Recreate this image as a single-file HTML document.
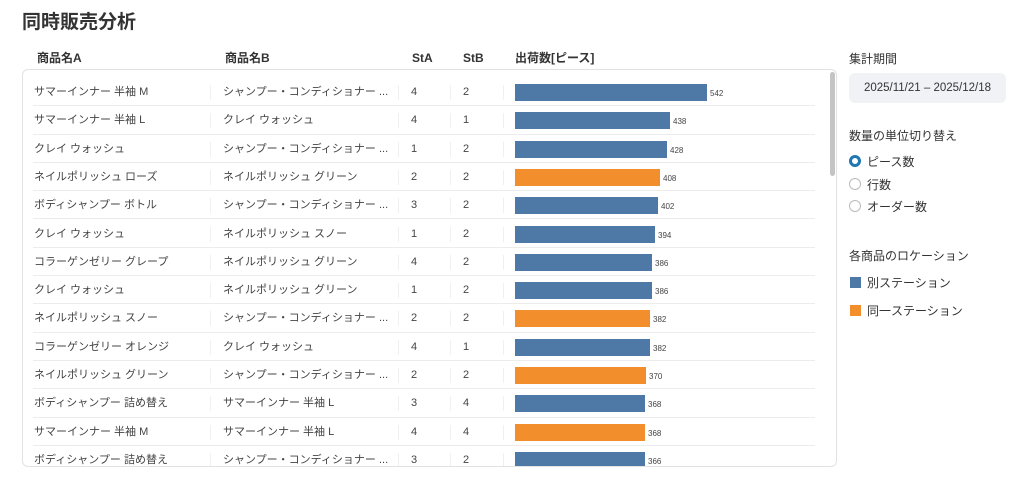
<!DOCTYPE html>
<html><head><meta charset="utf-8"><style>
*{margin:0;padding:0;box-sizing:border-box}
body{width:1024px;height:502px;background:#fff;font-family:"Liberation Sans","Noto Sans CJK JP",sans-serif;color:#333;position:relative;overflow:hidden}
.a{position:absolute;white-space:nowrap}
h1{position:absolute;left:22px;top:7px;font-size:19px;font-weight:bold;color:#333;font-family:"Liberation Sans","Noto Sans CJK JP",sans-serif}
.hd{font-size:12px;font-weight:bold;color:#333;top:48px;line-height:20px}
.box{position:absolute;left:22px;top:69px;width:815px;height:398px;border:1px solid #e2e2e2;border-radius:6px;overflow:hidden}
.r{position:absolute;left:10px;width:782px;height:28.3px;border-bottom:1px solid #ececec;font-size:11px;color:#444}
.r span{position:absolute;top:0;line-height:28px;height:28px}
.s{position:absolute;top:7px;width:1px;height:15px;background:#f0f0f0}
.b{position:absolute;top:6px;height:17px}
.r span.v{font-size:8px;top:2px;color:#444}
</style></head><body>
<h1>同時販売分析</h1>
<div class="a hd" style="left:37px">商品名A</div>
<div class="a hd" style="left:225px">商品名B</div>
<div class="a hd" style="left:412px">StA</div>
<div class="a hd" style="left:463px">StB</div>
<div class="a hd" style="left:515px">出荷数[ピース]</div>
<div class="box">
<div class="r" style="top:8px"><span style="left:1px">サマーインナー 半袖 M</span><div class="s" style="left:177px"></div><span style="left:190px">シャンプー・コンディショナー ...</span><div class="s" style="left:365px"></div><span style="left:378px">4</span><div class="s" style="left:417px"></div><span style="left:430px">2</span><div class="s" style="left:470px"></div><div class="b" style="left:482px;width:192px;background:#4e79a7"></div><span class="v" style="left:677px">542</span></div>
<div class="r" style="top:36.3px"><span style="left:1px">サマーインナー 半袖 L</span><div class="s" style="left:177px"></div><span style="left:190px">クレイ ウォッシュ</span><div class="s" style="left:365px"></div><span style="left:378px">4</span><div class="s" style="left:417px"></div><span style="left:430px">1</span><div class="s" style="left:470px"></div><div class="b" style="left:482px;width:155px;background:#4e79a7"></div><span class="v" style="left:640px">438</span></div>
<div class="r" style="top:64.6px"><span style="left:1px">クレイ ウォッシュ</span><div class="s" style="left:177px"></div><span style="left:190px">シャンプー・コンディショナー ...</span><div class="s" style="left:365px"></div><span style="left:378px">1</span><div class="s" style="left:417px"></div><span style="left:430px">2</span><div class="s" style="left:470px"></div><div class="b" style="left:482px;width:152px;background:#4e79a7"></div><span class="v" style="left:637px">428</span></div>
<div class="r" style="top:92.9px"><span style="left:1px">ネイルポリッシュ ローズ</span><div class="s" style="left:177px"></div><span style="left:190px">ネイルポリッシュ グリーン</span><div class="s" style="left:365px"></div><span style="left:378px">2</span><div class="s" style="left:417px"></div><span style="left:430px">2</span><div class="s" style="left:470px"></div><div class="b" style="left:482px;width:145px;background:#f28e2b"></div><span class="v" style="left:630px">408</span></div>
<div class="r" style="top:121.2px"><span style="left:1px">ボディシャンプー ボトル</span><div class="s" style="left:177px"></div><span style="left:190px">シャンプー・コンディショナー ...</span><div class="s" style="left:365px"></div><span style="left:378px">3</span><div class="s" style="left:417px"></div><span style="left:430px">2</span><div class="s" style="left:470px"></div><div class="b" style="left:482px;width:143px;background:#4e79a7"></div><span class="v" style="left:628px">402</span></div>
<div class="r" style="top:149.5px"><span style="left:1px">クレイ ウォッシュ</span><div class="s" style="left:177px"></div><span style="left:190px">ネイルポリッシュ スノー</span><div class="s" style="left:365px"></div><span style="left:378px">1</span><div class="s" style="left:417px"></div><span style="left:430px">2</span><div class="s" style="left:470px"></div><div class="b" style="left:482px;width:140px;background:#4e79a7"></div><span class="v" style="left:625px">394</span></div>
<div class="r" style="top:177.8px"><span style="left:1px">コラーゲンゼリー グレープ</span><div class="s" style="left:177px"></div><span style="left:190px">ネイルポリッシュ グリーン</span><div class="s" style="left:365px"></div><span style="left:378px">4</span><div class="s" style="left:417px"></div><span style="left:430px">2</span><div class="s" style="left:470px"></div><div class="b" style="left:482px;width:137px;background:#4e79a7"></div><span class="v" style="left:622px">386</span></div>
<div class="r" style="top:206.1px"><span style="left:1px">クレイ ウォッシュ</span><div class="s" style="left:177px"></div><span style="left:190px">ネイルポリッシュ グリーン</span><div class="s" style="left:365px"></div><span style="left:378px">1</span><div class="s" style="left:417px"></div><span style="left:430px">2</span><div class="s" style="left:470px"></div><div class="b" style="left:482px;width:137px;background:#4e79a7"></div><span class="v" style="left:622px">386</span></div>
<div class="r" style="top:234.4px"><span style="left:1px">ネイルポリッシュ スノー</span><div class="s" style="left:177px"></div><span style="left:190px">シャンプー・コンディショナー ...</span><div class="s" style="left:365px"></div><span style="left:378px">2</span><div class="s" style="left:417px"></div><span style="left:430px">2</span><div class="s" style="left:470px"></div><div class="b" style="left:482px;width:135px;background:#f28e2b"></div><span class="v" style="left:620px">382</span></div>
<div class="r" style="top:262.7px"><span style="left:1px">コラーゲンゼリー オレンジ</span><div class="s" style="left:177px"></div><span style="left:190px">クレイ ウォッシュ</span><div class="s" style="left:365px"></div><span style="left:378px">4</span><div class="s" style="left:417px"></div><span style="left:430px">1</span><div class="s" style="left:470px"></div><div class="b" style="left:482px;width:135px;background:#4e79a7"></div><span class="v" style="left:620px">382</span></div>
<div class="r" style="top:291px"><span style="left:1px">ネイルポリッシュ グリーン</span><div class="s" style="left:177px"></div><span style="left:190px">シャンプー・コンディショナー ...</span><div class="s" style="left:365px"></div><span style="left:378px">2</span><div class="s" style="left:417px"></div><span style="left:430px">2</span><div class="s" style="left:470px"></div><div class="b" style="left:482px;width:131px;background:#f28e2b"></div><span class="v" style="left:616px">370</span></div>
<div class="r" style="top:319.3px"><span style="left:1px">ボディシャンプー 詰め替え</span><div class="s" style="left:177px"></div><span style="left:190px">サマーインナー 半袖 L</span><div class="s" style="left:365px"></div><span style="left:378px">3</span><div class="s" style="left:417px"></div><span style="left:430px">4</span><div class="s" style="left:470px"></div><div class="b" style="left:482px;width:130px;background:#4e79a7"></div><span class="v" style="left:615px">368</span></div>
<div class="r" style="top:347.6px"><span style="left:1px">サマーインナー 半袖 M</span><div class="s" style="left:177px"></div><span style="left:190px">サマーインナー 半袖 L</span><div class="s" style="left:365px"></div><span style="left:378px">4</span><div class="s" style="left:417px"></div><span style="left:430px">4</span><div class="s" style="left:470px"></div><div class="b" style="left:482px;width:130px;background:#f28e2b"></div><span class="v" style="left:615px">368</span></div>
<div class="r" style="top:375.9px"><span style="left:1px">ボディシャンプー 詰め替え</span><div class="s" style="left:177px"></div><span style="left:190px">シャンプー・コンディショナー ...</span><div class="s" style="left:365px"></div><span style="left:378px">3</span><div class="s" style="left:417px"></div><span style="left:430px">2</span><div class="s" style="left:470px"></div><div class="b" style="left:482px;width:130px;background:#4e79a7"></div><span class="v" style="left:615px">366</span></div>
<div style="position:absolute;left:807px;top:2px;width:5px;height:104px;border-radius:3px;background:#c4c4c4"></div>
</div>
<div class="a" style="left:849px;top:50px;font-size:12px;color:#333">集計期間</div>
<div class="a" style="left:849px;top:73px;width:157px;height:30px;background:#f0f2f6;border-radius:6px;font-size:11.5px;color:#333;text-align:center;line-height:30px">2025/11/21 – 2025/12/18</div>
<div class="a" style="left:849px;top:127px;font-size:12px;color:#333">数量の単位切り替え</div>
<div class="a" style="left:849px;top:155px;width:12px;height:12px;border-radius:50%;border:3.5px solid #1f77b4;background:#fff"></div>
<div class="a" style="left:867px;top:153px;font-size:12px">ピース数</div>
<div class="a" style="left:849px;top:178px;width:12px;height:12px;border-radius:50%;border:1px solid #bbb"></div>
<div class="a" style="left:867px;top:176px;font-size:12px">行数</div>
<div class="a" style="left:849px;top:200px;width:12px;height:12px;border-radius:50%;border:1px solid #bbb"></div>
<div class="a" style="left:867px;top:198px;font-size:12px">オーダー数</div>
<div class="a" style="left:849px;top:247px;font-size:12px">各商品のロケーション</div>
<div class="a" style="left:850px;top:277px;width:11px;height:11px;background:#4e79a7"></div>
<div class="a" style="left:867px;top:274px;font-size:12px">別ステーション</div>
<div class="a" style="left:850px;top:305px;width:11px;height:11px;background:#f28e2b"></div>
<div class="a" style="left:867px;top:302px;font-size:12px">同一ステーション</div>
</body></html>
